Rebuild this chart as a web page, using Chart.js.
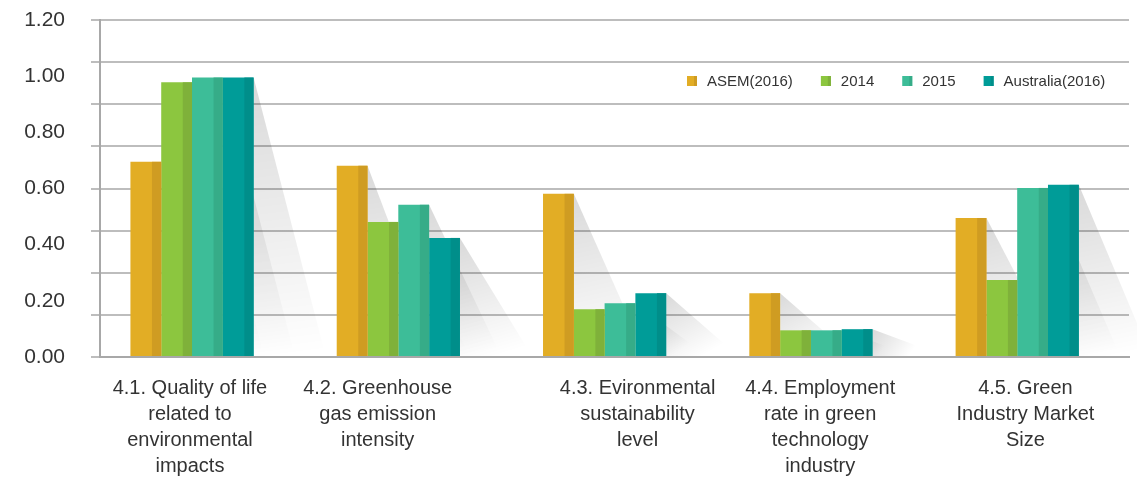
<!DOCTYPE html>
<html>
<head>
<meta charset="utf-8">
<style>
  html, body { margin: 0; padding: 0; background: #ffffff; }
  #wrap { width: 1137px; height: 477px; position: relative; }
</style>
<script src="https://cdn.jsdelivr.net/npm/chart.js@4.4.1/dist/chart.umd.min.js"></script>
</head>
<body>
<div id="wrap"><canvas id="chart" width="1137" height="477"></canvas></div>
<script>
// ---- data ----
const categories = [
  ['4.1. Quality of life', 'related to', 'environmental', 'impacts'],
  ['4.2. Greenhouse', 'gas emission', 'intensity'],
  ['4.3. Evironmental', 'sustainability', 'level'],
  ['4.4. Employment', 'rate in green', 'technology', 'industry'],
  ['4.5. Green', 'Industry Market', 'Size']
];
const seriesNames = ['ASEM(2016)', '2014', '2015', 'Australia(2016)'];
const asem2016      = [0.695, 0.681, 0.581, 0.227, 0.495];
const score2014     = [0.978, 0.481, 0.170, 0.095, 0.274];
const score2015     = [0.995, 0.542, 0.191, 0.095, 0.602];
const australia2016 = [0.995, 0.424, 0.227, 0.099, 0.613];
const yTickLabels   = [0.00, 0.20, 0.40, 0.60, 0.80, 1.00, 1.20];
const yGridValues   = [0.00, 0.15, 0.30, 0.45, 0.60, 0.75, 0.90, 1.05, 1.20];

// ---- styling ----
const FONT = "'Liberation Sans', Arial, sans-serif";
const faceColors = ['#E2AD25', '#8CC63F', '#3DBD98', '#009C98'];
const sideColors = ['#CF9C22', '#7FB13A', '#36AC88', '#008E8A'];
const SIDE_FRACTION = 0.3;      // darker right face of each bar
const SHADOW_LENGTH = 72;       // how far the cast shadow reaches along the floor
const labelNudge = [-0.01, -0.10, 0.16, 0.045, 0.04]; // horizontal placement of category captions

const seriesValues = [asem2016, score2014, score2015, australia2016];

// cast shadow behind every bar
const barShadows = {
  id: 'barShadows',
  beforeDatasetsDraw(chart) {
    const ctx = chart.ctx;
    ctx.save();
    chart.data.datasets.forEach((ds, di) => {
      const meta = chart.getDatasetMeta(di);
      meta.data.forEach(el => {
        const p = el.getProps(['x', 'y', 'base', 'width'], true);
        const xr = p.x + p.width / 2;
        const g = ctx.createLinearGradient(xr, p.y, xr + SHADOW_LENGTH * 0.5, p.base);
        g.addColorStop(0, 'rgba(0,0,0,0.15)');
        g.addColorStop(1, 'rgba(0,0,0,0.0)');
        ctx.fillStyle = g;
        ctx.beginPath();
        ctx.moveTo(xr, p.y);
        ctx.lineTo(xr + SHADOW_LENGTH, p.base);
        ctx.lineTo(xr, p.base);
        ctx.closePath();
        ctx.fill();
      });
    });
    ctx.restore();
  }
};

// darker side strip giving the bars a faceted look
const barSides = {
  id: 'barSides',
  afterDatasetsDraw(chart) {
    const ctx = chart.ctx;
    ctx.save();
    chart.data.datasets.forEach((ds, di) => {
      const meta = chart.getDatasetMeta(di);
      ctx.fillStyle = sideColors[di];
      meta.data.forEach(el => {
        const p = el.getProps(['x', 'y', 'base', 'width'], true);
        const w = p.width * SIDE_FRACTION;
        ctx.fillRect(p.x + p.width / 2 - w, p.y, w, p.base - p.y);
      });
    });
    ctx.restore();
  }
};

// legend row inside the plot
const legendRow = {
  id: 'legendRow',
  afterDraw(chart) {
    const ctx = chart.ctx;
    const box = 10, gap = 10, spacing = 28;
    let x = 687;
    const y = 81;
    ctx.save();
    ctx.font = '15px ' + FONT;
    ctx.textBaseline = 'middle';
    ctx.textAlign = 'left';
    seriesNames.forEach((name, i) => {
      ctx.fillStyle = faceColors[i];
      ctx.fillRect(x, y - box / 2, box, box);
      ctx.fillStyle = sideColors[i];
      ctx.fillRect(x + box * (1 - SIDE_FRACTION), y - box / 2, box * SIDE_FRACTION, box);
      ctx.fillStyle = '#333333';
      ctx.fillText(name, x + box + gap, y + 1);
      x += box + gap + ctx.measureText(name).width + spacing;
    });
    ctx.restore();
  }
};

const noPadding = scale => {
  scale.paddingTop = 0;
  scale.paddingBottom = 0;
};

new Chart(document.getElementById('chart'), {
  type: 'bar',
  data: {
    datasets: seriesNames.map((name, i) => ({
      label: name,
      data: seriesValues[i].map((v, c) => ({ x: c, y: v })),
      backgroundColor: faceColors[i],
      borderWidth: 0
    }))
  },
  options: {
    responsive: false,
    animation: false,
    devicePixelRatio: 1,
    layout: { padding: { top: 20, right: 8, left: 0, bottom: 0 } },
    datasets: { bar: { categoryPercentage: 0.6746, barPercentage: 1.0 } },
    plugins: { legend: { display: false }, tooltip: { enabled: false } },
    scales: {
      x: {
        type: 'linear',
        offset: false,
        min: -0.446,
        max: 4.542,
        z: 1,
        grid: { display: false, drawTicks: false, offset: false },
        border: { color: '#a8a8a8', width: 2 },
        afterBuildTicks(scale) {
          scale.ticks = categories.map((c, i) => ({ value: i + labelNudge[i] }));
        },
        afterFit(scale) { scale.height = 120; scale.paddingLeft = 0; scale.paddingRight = 0; },
        ticks: {
          autoSkip: false,
          maxRotation: 0,
          padding: 18,
          color: '#333333',
          font: { family: FONT, size: 20, lineHeight: 1.3 },
          callback: (v, i) => categories[i]
        }
      },
      y: {
        min: 0,
        max: 1.2,
        weight: 0,
        grid: { color: '#bdbdbd', lineWidth: 2, tickLength: 9, drawTicks: true },
        border: { color: '#a8a8a8', width: 2 },
        afterBuildTicks(scale) {
          scale.ticks = yGridValues.map(v => ({ value: v }));
        },
        afterFit(scale) { scale.width = 9; noPadding(scale); },
        ticks: { display: false }
      },
      yLabels: {
        position: 'left',
        min: 0,
        max: 1.2,
        weight: 1,
        grid: { display: false, drawTicks: false },
        border: { display: false },
        afterBuildTicks(scale) {
          scale.ticks = yTickLabels.map(v => ({ value: v }));
        },
        afterFit(scale) { scale.width = 91; noPadding(scale); },
        ticks: {
          padding: 26,
          color: '#333333',
          font: { family: FONT, size: 21 },
          callback: v => Number(v).toFixed(2)
        }
      }
    }
  },
  plugins: [barShadows, barSides, legendRow]
});
</script>
</body>
</html>
